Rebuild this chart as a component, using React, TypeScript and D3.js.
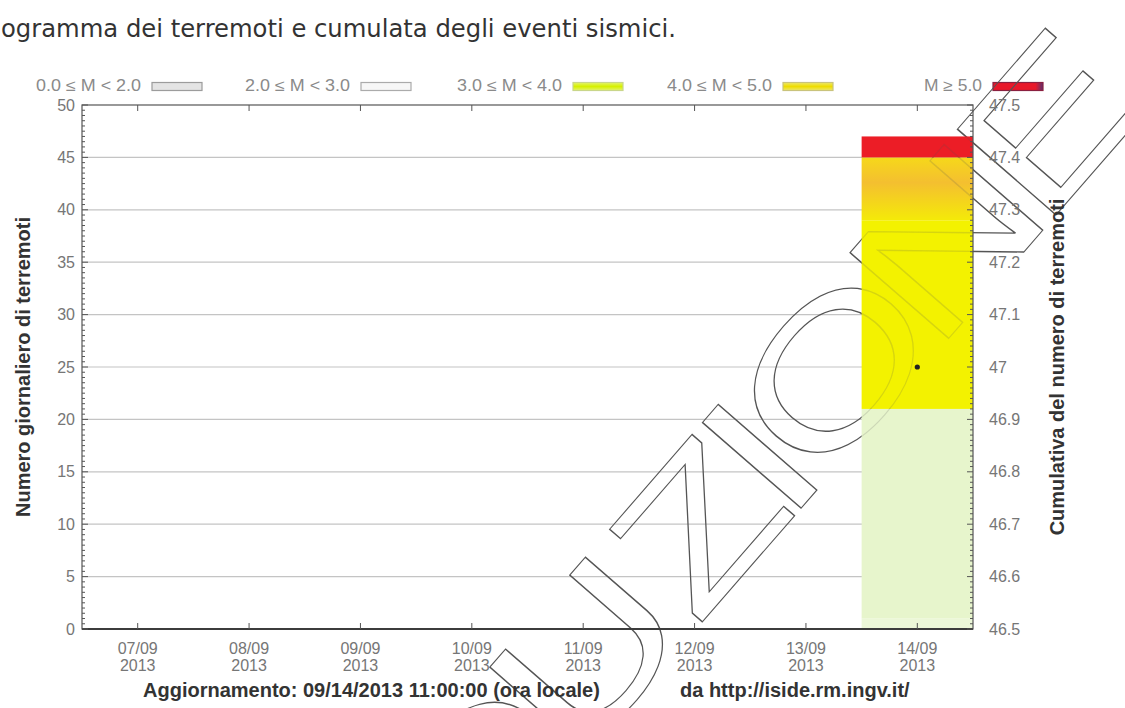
import React from "react";
import * as d3 from "d3";

// Days on the x axis and the year shown under each day
const days = ["07/09", "08/09", "09/09", "10/09", "11/09", "12/09", "13/09", "14/09"];
const yearLabel = "2013";

// Magnitude classes (legend order)
const classLabels = ["0.0 ≤ M < 2.0", "2.0 ≤ M < 3.0", "3.0 ≤ M < 4.0", "4.0 ≤ M < 5.0", "M ≥ 5.0"];

// Daily number of earthquakes per magnitude class
const countM0 = [0, 0, 0, 0, 0, 0, 0, 1];
const countM2 = [0, 0, 0, 0, 0, 0, 0, 20];
const countM3 = [0, 0, 0, 0, 0, 0, 0, 18];
const countM4 = [0, 0, 0, 0, 0, 0, 0, 6];
const countM5 = [0, 0, 0, 0, 0, 0, 0, 2];

// Cumulative number of events (right axis)
const cumulative = [0, 0, 0, 0, 0, 0, 0, 47];

// Axis ticks
const leftTicks = [0, 5, 10, 15, 20, 25, 30, 35, 40, 45, 50];
const rightTicks = [46.5, 46.6, 46.7, 46.8, 46.9, 47, 47.1, 47.2, 47.3, 47.4, 47.5];

const W = 1125;
const H = 708;
const plot = { left: 82, right: 973, top: 105, bottom: 629 };

const barFill = ["#ecf7d8", "#e7f5cc", "#f3f200", "url(#gOrange)", "#ec1d26"];
const swatch = [
  { fill: "#e4e4e4", stroke: "#9c9c9c" },
  { fill: "#f7f7f7", stroke: "#ababab" },
  { fill: "url(#gLime)", stroke: "#c9d68a" },
  { fill: "url(#gYellow)", stroke: "#c9c37c" },
  { fill: "url(#gRed)", stroke: "#8a2040" },
];
const legendSwatchX = [152, 361, 573, 783, 993];
const legendTextWidth = [105, 105, 105, 105, 58];

const tickFont = "'Liberation Sans', Arial, sans-serif";
const tickColor = "#767676";

function Watermark({ opacity = 1 }: { opacity?: number }) {
  return (
    <g
      transform="translate(697,628) rotate(-49) scale(1.35,1)"
      fill="none"
      stroke="#555"
      strokeOpacity={opacity}
      strokeWidth={1.1}
      fontFamily="'Liberation Sans', Arial, sans-serif"
      fontSize={190}
    >
      <text x={0} y={0} letterSpacing={-16} textAnchor="start">
        ZIONE
      </text>
      <text x={-16} y={0} letterSpacing={-16} textAnchor="end">
        RIPRODU
      </text>
    </g>
  );
}

export default function App() {
  const x = d3.scaleBand<string>().domain(days).range([plot.left, plot.right]).padding(0);
  const y = d3.scaleLinear().domain([0, 50]).range([plot.bottom, plot.top]);
  const y2 = d3.scaleLinear().domain([46.5, 47.5]).range([plot.bottom, plot.top]);

  const rows = days.map((d, i) => ({
    day: d,
    m0: countM0[i],
    m2: countM2[i],
    m3: countM3[i],
    m4: countM4[i],
    m5: countM5[i],
  }));
  const keys = ["m0", "m2", "m3", "m4", "m5"];
  const stacked = d3.stack<any>().keys(keys)(rows);

  const leftMinor = d3.range(0, 50.001, 0.5);
  const rightMinor = d3.range(0, 101).map((k) => 46.5 + k * 0.01);

  const cumPoints = days
    .map((d, i) => ({ d, v: cumulative[i] }))
    .filter((p) => p.v >= 46.5 && p.v <= 47.5);

  // outline of the filled bars, used to let the watermark show faintly through them
  const barRects = stacked[stacked.length - 1]
    .map((seg, i) => ({ i, top: seg[1] }))
    .filter((b) => b.top > 0);

  return (
    <svg
      width={W}
      height={H}
      style={{ position: "absolute", left: 0, top: 0, background: "#fff" }}
    >
      <defs>
        <linearGradient id="gOrange" x1="0" y1="0" x2="0" y2="1">
          <stop offset="0%" stopColor="#f6d81a" />
          <stop offset="40%" stopColor="#f4bf30" />
          <stop offset="100%" stopColor="#f4ea08" />
        </linearGradient>
        <linearGradient id="gLime" x1="0" y1="0" x2="0" y2="1">
          <stop offset="0%" stopColor="#e4f56a" />
          <stop offset="50%" stopColor="#d6f000" />
          <stop offset="100%" stopColor="#e4f56a" />
        </linearGradient>
        <linearGradient id="gYellow" x1="0" y1="0" x2="0" y2="1">
          <stop offset="0%" stopColor="#eee96a" />
          <stop offset="50%" stopColor="#eedc00" />
          <stop offset="100%" stopColor="#eee96a" />
        </linearGradient>
        <linearGradient id="gRed" x1="0" y1="0" x2="1" y2="0">
          <stop offset="0%" stopColor="#e8182a" />
          <stop offset="85%" stopColor="#e8182a" />
          <stop offset="100%" stopColor="#5a3070" />
        </linearGradient>
        <clipPath id="plotClip">
          <rect x={plot.left} y={plot.top} width={plot.right - plot.left} height={plot.bottom - plot.top} />
        </clipPath>
        <clipPath id="barClip">
          {barRects.map((b) => (
            <rect
              key={"bc" + b.i}
              x={x(days[b.i])!}
              width={x.bandwidth()}
              y={y(b.top)}
              height={y(0) - y(b.top)}
            />
          ))}
        </clipPath>
      </defs>
      <rect x={0} y={0} width={W} height={H} fill="#fff" />

      {/* title */}
      <text
        x={1}
        y={37}
        fontFamily="'DejaVu Sans', sans-serif"
        fontSize={24}
        fill="#333"
        textLength={675}
        lengthAdjust="spacingAndGlyphs"
      >
        ogramma dei terremoti e cumulata degli eventi sismici.
      </text>

      {/* legend */}
      {classLabels.map((lab, i) => (
        <g key={lab}>
          <text
            x={legendSwatchX[i] - 11 - legendTextWidth[i]}
            y={91}
            fontFamily={tickFont}
            fontSize={16}
            fill="#8a8a8a"
            textLength={legendTextWidth[i]}
            lengthAdjust="spacingAndGlyphs"
          >
            {lab}
          </text>
          <rect
            x={legendSwatchX[i]}
            y={82.5}
            width={50}
            height={8}
            fill={swatch[i].fill}
            stroke={swatch[i].stroke}
            strokeWidth={1.2}
          />
        </g>
      ))}

      {/* grid lines */}
      {leftTicks.slice(1, -1).map((t) => (
        <line key={"g" + t} x1={plot.left} x2={plot.right} y1={y(t)} y2={y(t)} stroke="#c4c4c4" strokeWidth={1.2} />
      ))}

      {/* watermark outlines */}
      <Watermark />

      {/* stacked bars */}
      <g clipPath="url(#plotClip)">
        {stacked.map((layer, li) =>
          layer.map((seg, i) =>
            seg[1] > seg[0] ? (
              <rect
                key={li + "-" + i}
                x={x(days[i])!}
                width={x.bandwidth()}
                y={y(seg[1])}
                height={y(seg[0]) - y(seg[1])}
                fill={barFill[li]}
              />
            ) : null
          )
        )}
      </g>
      <g clipPath="url(#barClip)">
        <Watermark opacity={0.18} />
      </g>

      {/* frame */}
      <rect
        x={plot.left}
        y={plot.top}
        width={plot.right - plot.left}
        height={plot.bottom - plot.top}
        fill="none"
        stroke="#555"
        strokeWidth={1.2}
      />
      <line x1={plot.left} x2={plot.right} y1={plot.bottom} y2={plot.bottom} stroke="#3c3c3c" strokeWidth={1.8} />

      {/* left axis ticks and labels */}
      {leftMinor.map((t) => (
        <line key={"lm" + t} x1={plot.left} x2={plot.left + (t % 5 === 0 ? 6 : 3)} y1={y(t)} y2={y(t)} stroke="#555" />
      ))}
      {leftTicks.map((t) => (
        <text
          key={"lt" + t}
          x={plot.left - 7}
          y={y(t) + 5.5}
          textAnchor="end"
          fontFamily={tickFont}
          fontSize={16}
          fill={tickColor}
        >
          {t}
        </text>
      ))}

      {/* right axis ticks and labels */}
      {rightMinor.map((t, k) => (
        <line
          key={"rm" + k}
          x1={plot.right}
          x2={plot.right - (k % 10 === 0 ? 6 : 3)}
          y1={y2(t)}
          y2={y2(t)}
          stroke="#555"
        />
      ))}
      {rightTicks.map((t) => (
        <text
          key={"rt" + t}
          x={plot.right + 16}
          y={y2(t) + 5.5}
          textAnchor="start"
          fontFamily={tickFont}
          fontSize={16}
          fill={tickColor}
        >
          {d3.format("~g")(t)}
        </text>
      ))}

      {/* x axis ticks (bottom and top) and labels */}
      {days.map((d) => {
        const cx = x(d)! + x.bandwidth() / 2;
        return (
          <g key={"x" + d}>
            <line x1={cx} x2={cx} y1={plot.bottom} y2={plot.bottom - 6} stroke="#555" />
            <line x1={cx} x2={cx} y1={plot.top} y2={plot.top + 6} stroke="#555" />
            <text x={cx} y={654} textAnchor="middle" fontFamily={tickFont} fontSize={16} fill={tickColor}>
              {d}
            </text>
            <text x={cx} y={671} textAnchor="middle" fontFamily={tickFont} fontSize={16} fill={tickColor}>
              {yearLabel}
            </text>
          </g>
        );
      })}

      {/* cumulative points */}
      {cumPoints.map((p) => (
        <circle key={"c" + p.d} cx={x(p.d)! + x.bandwidth() / 2} cy={y2(p.v)} r={2.6} fill="#222" />
      ))}

      {/* axis titles */}
      <text
        transform={`translate(${30},${(plot.top + plot.bottom) / 2}) rotate(-90)`}
        textAnchor="middle"
        fontFamily={tickFont}
        fontWeight="bold"
        fontSize={20}
        fill="#333"
      >
        Numero giornaliero di terremoti
      </text>
      <text
        transform={`translate(${1064},${(plot.top + plot.bottom) / 2}) rotate(-90)`}
        textAnchor="middle"
        fontFamily={tickFont}
        fontWeight="bold"
        fontSize={20}
        fill="#333"
      >
        Cumulativa del numero di terremoti
      </text>

      {/* footer */}
      <text x={143} y={697} fontFamily={tickFont} fontWeight="bold" fontSize={20} fill="#333">
        Aggiornamento: 09/14/2013 11:00:00 (ora locale)
      </text>
      <text x={680} y={697} fontFamily={tickFont} fontWeight="bold" fontSize={20} fill="#333">
        da http://iside.rm.ingv.it/
      </text>
    </svg>
  );
}
